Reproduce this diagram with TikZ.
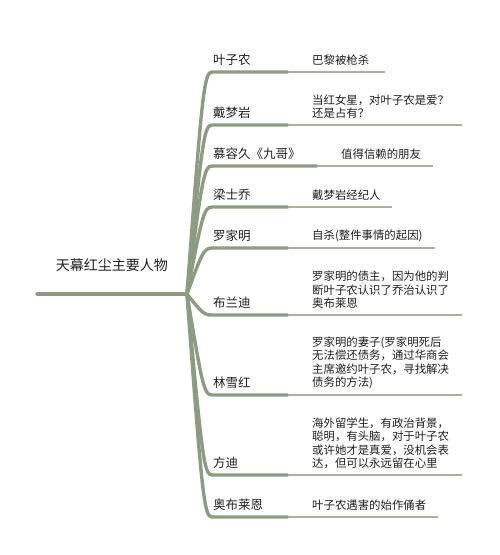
\documentclass[tikz,border=0pt]{standalone}
\usepackage{fontspec}
\setmainfont{Noto Sans CJK SC}
\usetikzlibrary{calc}
\definecolor{cA}{RGB}{140,155,130}
\definecolor{cB}{RGB}{168,178,158}
\definecolor{txt}{RGB}{30,30,30}
\tikzset{
  roottext/.style={font=\fontsize{14}{16}\selectfont, inner sep=0, text=txt},
  lonetext/.style={font=\fontsize{12.5}{15}\selectfont, anchor=south west, inner sep=0, text=txt},
  ltwotext/.style={font=\fontsize{11.4}{13.5}\selectfont, anchor=south west, inner sep=0, align=left, text=txt},
  lone/.style={draw=cA, line width=3pt, line cap=round},
  ltwo/.style={draw=cB, line width=2pt},
}
\begin{document}
\begin{tikzpicture}[x=1pt,y=-1pt]
\useasboundingbox (0,0) rectangle (500,555);
\coordinate (hub) at (187,294);
\coordinate (rootend) at (37,294);
\node[roottext] (root) at (112,265) {天幕红尘主要人物};
\draw[lone, line width=3.2pt] (rootend) -- (hub);

\foreach \i/\y/\m/\e in {1/72/288/385, 2/125/288/462, 3/166/317/433, 4/207/288/392, 5/248/288/435, 6/315/288/462, 7/395/288/462, 8/475/288/462, 9/517/288/438}{
  \coordinate (s\i) at (212,\y);
  \coordinate (m\i) at (\m,\y);
  \coordinate (e\i) at (\e,\y);
  \pgfmathsetmacro\cy{\y+0.1*(294-\y)}
  \draw[lone, line width=3.4pt] (hub) .. controls (202,\cy) and (204,\y) .. (s\i) -- (m\i);
  \draw[ltwo] (m\i) -- (e\i);
}

\node[lonetext] (n1) at ($(s1)+(1,-6)$) {叶子农};
\node[lonetext] (n2) at ($(s2)+(1,-6)$) {戴梦岩};
\node[lonetext] (n3) at ($(s3)+(1,-6)$) {慕容久《九哥》};
\node[lonetext] (n4) at ($(s4)+(1,-6)$) {梁士乔};
\node[lonetext] (n5) at ($(s5)+(1,-6)$) {罗家明};
\node[lonetext] (n6) at ($(s6)+(1,-6)$) {布兰迪};
\node[lonetext] (n7) at ($(s7)+(1,-6)$) {林雪红};
\node[lonetext] (n8) at ($(s8)+(1,-6)$) {方迪};
\node[lonetext] (n9) at ($(s9)+(1,-6)$) {奥布莱恩};

\node[ltwotext] (d1) at (312,66) {巴黎被枪杀};
\node[ltwotext] (d2) at (312,119) {当红女星，对叶子农是爱？\\还是占有？};
\node[ltwotext] (d3) at (341,160) {值得信赖的朋友};
\node[ltwotext] (d4) at (312,201) {戴梦岩经纪人};
\node[ltwotext] (d5) at (312,242) {自杀(整件事情的起因)};
\node[ltwotext] (d6) at (312,309) {罗家明的债主，因为他的判\\断叶子农认识了乔治认识了\\奥布莱恩};
\node[ltwotext] (d7) at (312,389) {罗家明的妻子(罗家明死后\\无法偿还债务，通过华商会\\主席邀约叶子农，寻找解决\\债务的方法)};
\node[ltwotext] (d8) at (312,469) {海外留学生，有政治背景，\\聪明，有头脑，对于叶子农\\或许她才是真爱，没机会表\\达，但可以永远留在心里};
\node[ltwotext] (d9) at (312,511) {叶子农遇害的始作俑者};
\end{tikzpicture}
\end{document}
